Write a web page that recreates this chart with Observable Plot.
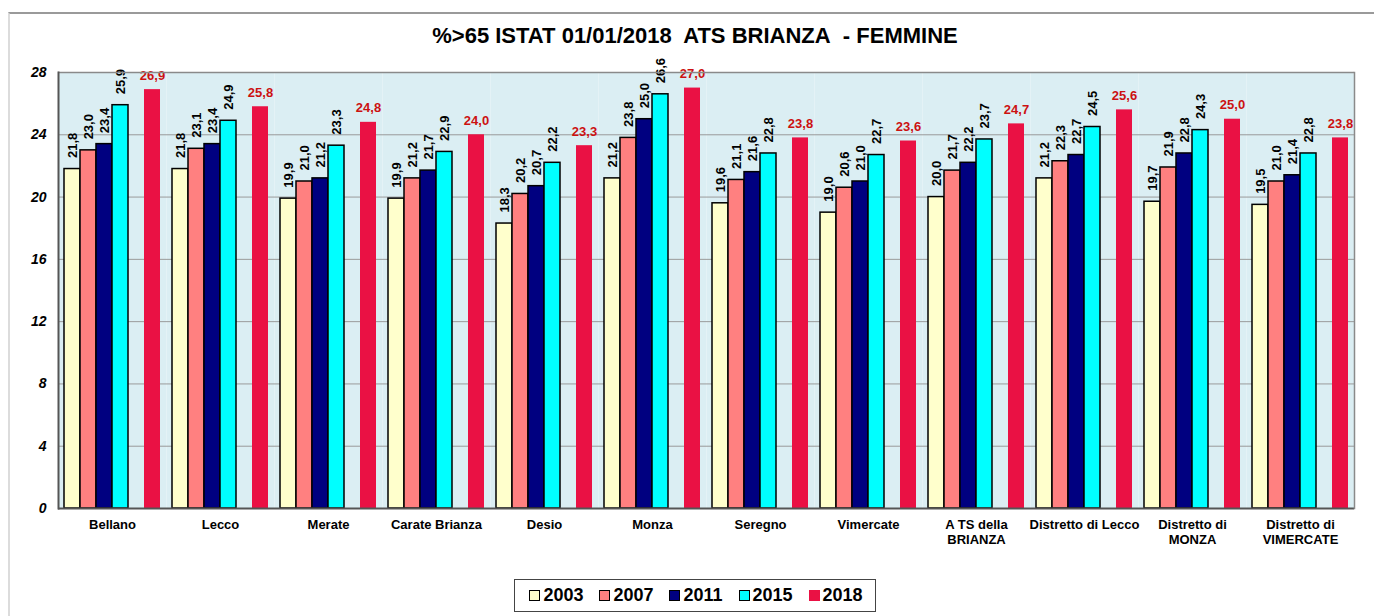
<!DOCTYPE html>
<html>
<head>
<meta charset="utf-8">
<script src="https://cdn.jsdelivr.net/npm/d3@7"></script>
<script src="https://cdn.jsdelivr.net/npm/@observablehq/plot@0.6"></script>
<style>
  body { margin: 0; background: #fff; font-family: "Liberation Sans", Arial, sans-serif; }
  #wrap { position: absolute; left: 8px; top: 12px; width: 1370px; height: 620px;
          border-top: 2px solid #9a9a9a; border-left: 2px solid #dcdcdc; }
  #title { padding-top: 10px; height: 24px; line-height: 24px; text-align: center;
           font-weight: bold; font-size: 22px; color: #000; }
  #chart svg { display: block; }
  #legend { margin: 26px auto 0; width: fit-content; border: 1.5px solid #444; padding: 5px 12px 5px 14px;
            display: flex; gap: 16px; font-weight: bold; font-size: 18px; line-height: 21px; }
  .item { display: flex; align-items: center; gap: 3px; }
  .sw { width: 9px; height: 9px; border: 1px solid #000; display: inline-block; }
</style>
</head>
<body>
<div id="wrap">
  <div id="title">%&gt;65 ISTAT 01/01/2018&nbsp; ATS BRIANZA&nbsp; - FEMMINE</div>
  <div id="chart"></div>
  <div id="legend"></div>
</div>
<script>
const districts = ["Bellano", "Lecco", "Merate", "Carate Brianza", "Desio", "Monza", "Seregno", "Vimercate",
  "ATS della BRIANZA", "Distretto di Lecco", "Distretto di MONZA", "Distretto di VIMERCATE"];
const districtLabels = ["Bellano", "Lecco", "Merate", "Carate Brianza", "Desio", "Monza", "Seregno", "Vimercate",
  "A TS della\nBRIANZA", "Distretto di Lecco", "Distretto di\nMONZA", "Distretto di\nVIMERCATE"];
const years = ["2003", "2007", "2011", "2015", "2018"];
const slots = ["2003", "2007", "2011", "2015", "", "2018"];
const v2003 = [21.8, 21.8, 19.9, 19.9, 18.3, 21.2, 19.6, 19.0, 20.0, 21.2, 19.7, 19.5];
const v2007 = [23.0, 23.1, 21.0, 21.2, 20.2, 23.8, 21.1, 20.6, 21.7, 22.3, 21.9, 21.0];
const v2011 = [23.4, 23.4, 21.2, 21.7, 20.7, 25.0, 21.6, 21.0, 22.2, 22.7, 22.8, 21.4];
const v2015 = [25.9, 24.9, 23.3, 22.9, 22.2, 26.6, 22.8, 22.7, 23.7, 24.5, 24.3, 22.8];
const v2018 = [26.9, 25.8, 24.8, 24.0, 23.3, 27.0, 23.8, 23.6, 24.7, 25.6, 25.0, 23.8];
const yTicks = [0, 4, 8, 12, 16, 20, 24, 28];
const colors = ["#ffffcc", "#ff8080", "#000080", "#00ffff", "#ea1144"];

const series = [v2003, v2007, v2011, v2015, v2018];
const data = districts.flatMap((d, i) => years.map((y, j) => ({district: d, year: y, value: series[j][i]})));
const older = data.filter(d => d.year !== "2018");
const latest = data.filter(d => d.year === "2018");
const fmt = d => d.value.toFixed(1).replace(".", ",");

const chart = Plot.plot({
  width: 1360,
  height: 505,
  marginLeft: 43,
  marginRight: 11,
  marginTop: 24,
  marginBottom: 45,
  style: {fontFamily: "'Liberation Sans', Arial, sans-serif", fontWeight: "bold", fontSize: "13px", color: "#000", overflow: "visible"},
  fx: {domain: districts, padding: 0},
  x: {domain: slots, paddingInner: 0, paddingOuter: 0.335, axis: null},
  y: {domain: [0, 28]},
  color: {domain: years, range: colors},
  marks: [
    Plot.frame({fill: "#dbeef3", stroke: null}),
    Plot.ruleY(yTicks.slice(1, -1), {stroke: "#9a9a9a", strokeWidth: 1}),
    Plot.axisY({ticks: yTicks, tickSize: 0, tickPadding: 12, label: null, fontStyle: "italic", fontSize: 14, fontWeight: "bold"}),
    Plot.axisFx({anchor: "bottom", tickSize: 0, tickPadding: 10, label: null, lineHeight: 1.15,
      tickFormat: d => districtLabels[districts.indexOf(d)]}),
    Plot.barY(older, {fx: "district", x: "year", y: "value", fill: "year", stroke: "#000", strokeWidth: 1.5}),
    Plot.barY(latest, {fx: "district", x: "year", y: "value", fill: "year"}),
    Plot.text(older, {fx: "district", x: "year", y: "value", text: fmt, rotate: -90, textAnchor: "start", dy: -11,
      fontSize: 13, fontWeight: "bold", fill: "#000"}),
    Plot.text(latest, {fx: "district", x: "year", y: "value", text: fmt, lineAnchor: "bottom", dy: -10,
      fontSize: 13, fontWeight: "bold", fill: "#cc1111"}),
    Plot.ruleY([28], {stroke: "#8a8a8a", strokeWidth: 1.5}),
    Plot.ruleY([0], {stroke: "#555", strokeWidth: 2}),
    Plot.frame({anchor: "left", facetAnchor: "left", stroke: "#555", strokeWidth: 2}),
    Plot.frame({anchor: "right", facetAnchor: "right", stroke: "#8a8a8a", strokeWidth: 1.5})
  ]
});
document.getElementById("chart").append(chart);

const legend = document.getElementById("legend");
years.forEach((y, i) => {
  const item = document.createElement("div");
  item.className = "item";
  const sw = document.createElement("span");
  sw.className = "sw";
  sw.style.background = colors[i];
  if (y === "2018") sw.style.borderColor = colors[i];
  const t = document.createElement("span");
  t.textContent = y;
  item.append(sw, t);
  legend.append(item);
});
</script>
</body>
</html>
